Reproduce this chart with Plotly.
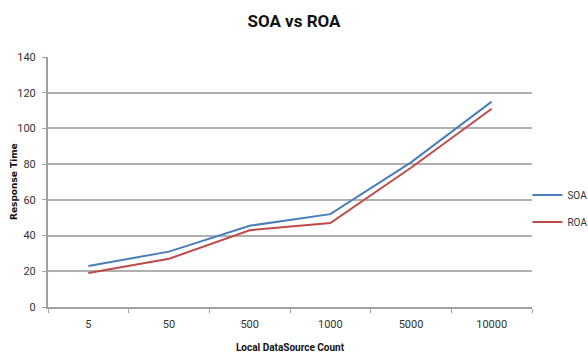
import plotly.graph_objects as go

categories = ["5", "50", "500", "1000", "5000", "10000"]
soa = [23, 31, 45.5, 52, 81, 115]
roa = [19, 27, 43, 47, 78, 111]

font_family = "Liberation Sans Narrow, Roboto, Liberation Sans, Arial"

fig = go.Figure()
fig.add_trace(go.Scatter(x=categories, y=soa, mode="lines", name="SOA", showlegend=True,
                         line=dict(color="#4a7ebb", width=2), legend="legend"))
fig.add_trace(go.Scatter(x=categories, y=roa, mode="lines", name="ROA", showlegend=True,
                         line=dict(color="#be4b48", width=2), legend="legend2"))

legend_style = dict(xref="container", yref="container", xanchor="left", yanchor="middle",
                    bgcolor="rgba(0,0,0,0)",
                    font=dict(family=font_family, size=10, color="#333333"),
                    itemwidth=30, tracegroupgap=0, visible=True)

fig.update_layout(
    width=588, height=355,
    margin=dict(l=48, r=56, t=57, b=48, autoexpand=False),
    showlegend=True,
    paper_bgcolor="white", plot_bgcolor="white",
    title=dict(text="<b>SOA vs ROA</b>", x=0.5, xanchor="center", y=0.94, yanchor="middle",
               font=dict(family=font_family, size=17, color="#111111")),
    legend=dict(x=0.897, y=0.451, **legend_style),
    legend2=dict(x=0.897, y=0.375, **legend_style),
    xaxis=dict(
        type="category", range=[-0.5, 5.5], tickson="boundaries", automargin=False,
        ticks="outside", ticklen=4, tickcolor="#a0a0a0", tickwidth=1,
        showline=True, linecolor="#a0a0a0", linewidth=2, showgrid=False,
        ticklabelstandoff=6,
        tickfont=dict(family=font_family, size=11, color="#333333"),
        title=dict(text="<b>Local DataSource Count</b>", standoff=14,
                   font=dict(family=font_family, size=10, color="#111111")),
    ),
    yaxis=dict(
        range=[0, 140], dtick=20, ticks="outside", ticklen=4, tickcolor="#a0a0a0",
        showline=True, linecolor="#a0a0a0", linewidth=2, automargin=False,
        showgrid=True, gridcolor="#b0b0b0", gridwidth=1.5, zeroline=False,
        ticklabelstandoff=4,
        tickfont=dict(family=font_family, size=11, color="#333333"),
    ),
    annotations=[dict(
        text="<b>Response Time</b>", textangle=-90,
        xref="paper", yref="paper", x=-34 / 484, y=0.5,
        xanchor="center", yanchor="middle", showarrow=False,
        font=dict(family="DejaVu Sans, Arial", size=9, color="#111111"),
    )],
)

fig.write_html("out.html")
